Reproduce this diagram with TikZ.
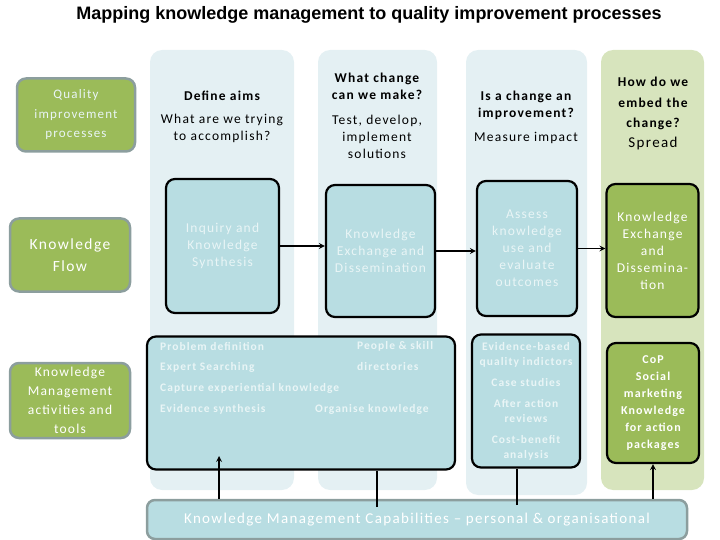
\documentclass[tikz,border=0pt]{standalone}
\usepackage{fontspec}
\setmainfont{Carlito}[LetterSpace=9]
\newfontfamily\titlefont{Liberation Sans}
\usepackage{xcolor}
\definecolor{colblue}{HTML}{E4F0F3}
\definecolor{colgreen}{HTML}{D7E4BD}
\definecolor{boxblue}{HTML}{B8DDE2}
\definecolor{boxgreen}{HTML}{9BBB59}
\definecolor{rimgrey}{HTML}{8C9E9E}
\definecolor{palefont}{HTML}{E9F5F6}

\begin{document}
\begin{tikzpicture}[x=1pt,y=-1pt,>=stealth,
  stage/.style={draw=black,line width=2.2pt,rounded corners=9pt,fill=boxblue,
    align=center,text=palefont,inner sep=2pt,font=\fontsize{13.5}{17}\selectfont},
  greenstage/.style={stage,fill=boxgreen,text=white},
  rowlabel/.style={draw=rimgrey,line width=2.5pt,rounded corners=9pt,fill=boxgreen,
    text=white,align=center,minimum width=118pt,minimum height=73pt,inner sep=1pt},
  head/.style={align=center,font=\bfseries\fontsize{13.5}{17}\selectfont},
  ask/.style={align=center,font=\fontsize{13.5}{17}\selectfont},
  tool/.style={anchor=west,inner sep=0pt,text=palefont,font=\bfseries\fontsize{11.5}{14}\selectfont}]
\useasboundingbox (0,0) rectangle (720,540);

% title
\node (title) at (369,15) {\titlefont\bfseries\fontsize{18}{20}\selectfont
  Mapping knowledge management to quality improvement processes};

% column backgrounds
\fill[colblue,rounded corners=12pt] (150,50) rectangle (294,490);
\fill[colblue,rounded corners=12pt] (318,50) rectangle (437,490);
\fill[colblue,rounded corners=12pt] (466,50) rectangle (587,495);
\fill[colgreen,rounded corners=12pt] (601,50) rectangle (704,490);

% row labels
\node[rowlabel,text=palefont,font=\fontsize{13}{19.5}\selectfont] (qi) at (76,115)
  {Quality\\improvement\\processes};
\node[rowlabel,minimum width=120pt,font=\fontsize{15.5}{22}\selectfont] (flow) at (70,255)
  {Knowledge\\Flow};
\node[rowlabel,minimum width=120pt,minimum height=75pt,font=\fontsize{13.5}{19}\selectfont] (kmrow) at (70,400.5)
  {Knowledge\\Management\\activities and\\tools};

% column questions
\node[head] (head1) at (222,96) {Define aims};
\node[ask] (ask1) at (222,128) {What are we trying\\to accomplish?};
\node[head] (head2) at (377,86.5) {What change\\can we make?};
\node[ask] (ask2) at (377,137) {Test, develop,\\implement\\solutions};
\node[head] (head3) at (526,105) {Is a change an\\improvement?};
\node[ask] (ask3) at (526,138) {Measure impact};
\node[head,font=\bfseries\fontsize{13.5}{20.5}\selectfont] (head4) at (653,103.5) {How do we\\embed the\\change?};
\node[ask,font=\fontsize{15}{17}\selectfont] (ask4) at (653,144) {Spread};

% knowledge flow
\node[stage,minimum width=113pt,minimum height=134pt] (inquiry) at (222.5,246)
  {Inquiry and\\Knowledge\\Synthesis};
\node[stage,minimum width=109pt,minimum height=132pt] (exchange) at (380.5,251)
  {Knowledge\\Exchange and\\Dissemination};
\node[stage,minimum width=100pt,minimum height=135pt] (assess) at (527,248.5)
  {Assess\\knowledge\\use and\\evaluate\\outcomes};
\node[greenstage,minimum width=92pt,minimum height=133pt] (spread) at (652.5,250.5)
  {Knowledge\\Exchange\\and\\Dissemina-\\tion};

\foreach \a/\b in {inquiry/exchange,exchange/assess,assess/spread}
  \draw[line width=1.6pt,->] (\a.east) -- (\a.east -| \b.west);

% km activities and tools
\node[stage,minimum width=308pt,minimum height=133pt] (tools) at (301,403) {};
\node[tool] (t1) at (160,346) {Problem definition};
\node[tool] (t2) at (160,367) {Expert Searching};
\node[tool] (t3) at (160,388) {Capture experiential knowledge};
\node[tool] (t4) at (160,409) {Evidence synthesis};
\node[tool] (t5) at (357,346) {People \& skill};
\node[tool] (t6) at (357,367) {directories};
\node[tool] (t7) at (315,409) {Organise knowledge};
\node[stage,minimum width=108pt,minimum height=133pt,font=\bfseries\fontsize{11.5}{15}\selectfont] (cases) at (526,401)
  {Evidence-based\\quality indictors\\[6pt]Case studies\\[6pt]After action\\reviews\\[6pt]Cost-benefit\\analysis};
\node[greenstage,minimum width=92pt,minimum height=120pt,font=\bfseries\fontsize{12}{17}\selectfont] (cop) at (653,403)
  {CoP\\Social\\marketing\\Knowledge\\for action\\packages};

% capabilities
\node[draw=rimgrey,line width=2.5pt,rounded corners=8pt,fill=boxblue,text=white,
  minimum width=540pt,minimum height=39pt,font=\fontsize{15}{18}\selectfont] (bar) at (417,519.5)
  {Knowledge Management Capabilities -- personal \& organisational};

\coordinate (up1) at (219,456);
\coordinate (up2) at (377,507);
\coordinate (up3) at (517,505);
\draw[line width=1.6pt,->] (bar.north -| up1) -- (up1);
\draw[line width=1.6pt] (up2) -- (up2 |- tools.south);
\draw[line width=1.6pt] (up3) -- (up3 |- cases.south);
\draw[line width=1.6pt,->] (bar.north -| cop.south) -- (cop.south);
\end{tikzpicture}
\end{document}
